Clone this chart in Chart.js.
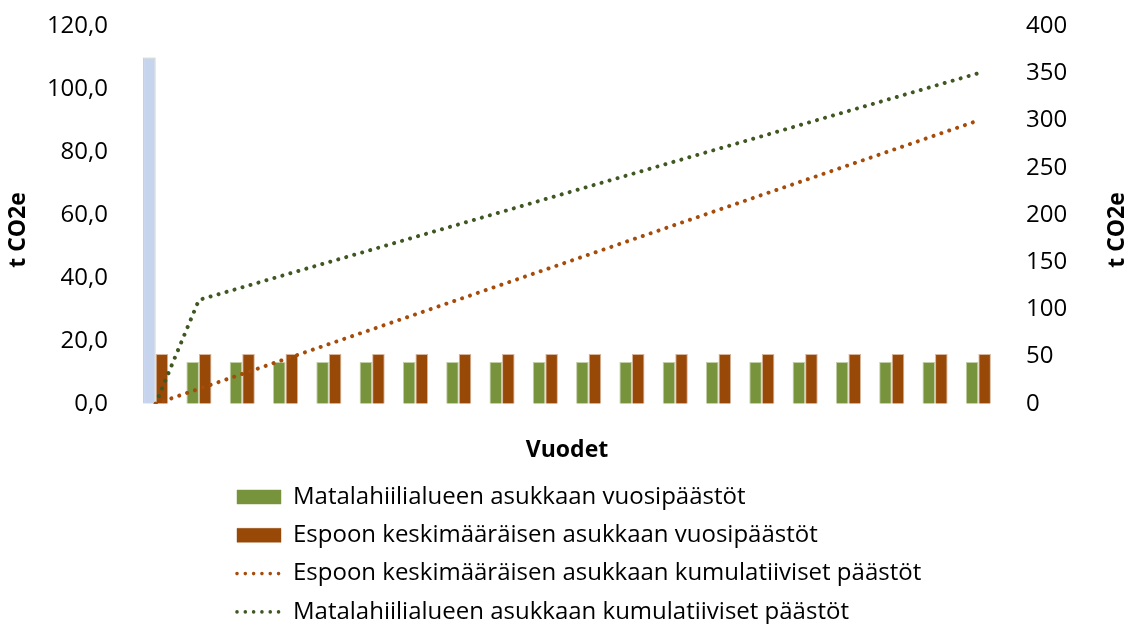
<!DOCTYPE html>
<html><head><meta charset="utf-8">
<script src="https://cdn.jsdelivr.net/npm/chart.js@4.4.0/dist/chart.umd.min.js"></script>
<style>html,body{margin:0;padding:0;background:#fff}#wrap{width:1131px;height:624px;position:relative}</style>
</head><body><div id="wrap"><canvas id="c" width="1131" height="624"></canvas></div>
<script>
const years = ['1','2','3','4','5','6','7','8','9','10','11','12','13','14','15','16','17','18','19','20'];
const lowCarbonAnnual = [110, 13.3, 13.3, 13.3, 13.3, 13.3, 13.3, 13.3, 13.3, 13.3, 13.3, 13.3, 13.3, 13.3, 13.3, 13.3, 13.3, 13.3, 13.3, 13.3];
const espooAnnual = [15.8, 15.8, 15.8, 15.8, 15.8, 15.8, 15.8, 15.8, 15.8, 15.8, 15.8, 15.8, 15.8, 15.8, 15.8, 15.8, 15.8, 15.8, 15.8, 15.8];
const espooCumulative = [0, 15.8, 31.6, 47.4, 63.2, 78.9, 94.7, 110.5, 126.3, 142.1, 157.9, 173.7, 189.5, 205.3, 221.1, 236.8, 252.6, 268.4, 284.2, 300.0];
const lowCarbonCumulative = [0, 110, 123.3, 136.7, 150, 163.3, 176.7, 190, 203.3, 216.7, 230, 243.3, 256.7, 270, 283.3, 296.7, 310, 323.3, 336.7, 350];
const leftAxis = {min: 0, max: 120, step: 20};
const rightAxis = {min: 0, max: 400, step: 50};
const seriesNames = [
  'Matalahiilialueen asukkaan vuosipäästöt',
  'Espoon keskimääräisen asukkaan vuosipäästöt',
  'Espoon keskimääräisen asukkaan kumulatiiviset päästöt',
  'Matalahiilialueen asukkaan kumulatiiviset päästöt'
];
const axisTitle = 't CO2e';
const xTitle = 'Vuodet';

const FONT = "'Open Sans', sans-serif";
const GREEN = '#77933c', BROWN = '#984807', BLUE = '#c6d4ee';
const GREEN_LINE = '#3f5722', BROWN_LINE = '#a64c0b';

const greenColors = lowCarbonAnnual.map((v, i) => i === 0 ? BLUE : GREEN);

const customPlugin = {
  id: 'custom',
  afterLayout(chart) {
    const lg = chart.legend;
    const pad = lg.options.labels.padding;
    lg.left = 237 - pad;
    lg.right = 1131;
    lg.top = 497 - pad - 12;
  },
  afterDraw(chart) {
    const ctx = chart.ctx;
    ctx.save();
    ctx.font = "bold 23px " + FONT;
    ctx.fillStyle = '#000';
    ctx.textAlign = 'center';
    ctx.textBaseline = 'middle';
    [[18, 230], [1117, 230]].forEach(([x, y]) => {
      ctx.save();
      ctx.translate(x, y);
      ctx.rotate(-Math.PI / 2);
      ctx.fillText(axisTitle, 0, 0);
      ctx.restore();
    });
    ctx.restore();
  }
};

function fixY(width) {
  return function(s) { s.width = width; s.paddingTop = 0; s.paddingBottom = 0; };
}

new Chart(document.getElementById('c'), {
  data: {
    labels: years,
    datasets: [
      {type: 'bar', label: seriesNames[0], data: lowCarbonAnnual, yAxisID: 'yL',
       backgroundColor: greenColors, borderColor: 'rgba(119,147,60,0.45)', borderWidth: 1, legendColor: GREEN, order: 1},
      {type: 'bar', label: seriesNames[1], data: espooAnnual, yAxisID: 'yL',
       backgroundColor: BROWN, borderColor: 'rgba(152,72,7,0.4)', borderWidth: 1, order: 1},
      {type: 'line', label: seriesNames[2], data: espooCumulative, yAxisID: 'yR',
       borderColor: BROWN_LINE, backgroundColor: BROWN_LINE, borderWidth: 4, borderDash: [0.01, 8.3],
       borderCapStyle: 'round', pointRadius: 0, tension: 0, order: 0},
      {type: 'line', label: seriesNames[3], data: lowCarbonCumulative, yAxisID: 'yR',
       borderColor: GREEN_LINE, backgroundColor: GREEN_LINE, borderWidth: 4, borderDash: [0.01, 8.3],
       borderCapStyle: 'round', pointRadius: 0, tension: 0, order: 0}
    ]
  },
  options: {
    responsive: false,
    animation: false,
    layout: {padding: {top: 26, left: 0, right: 0, bottom: 0}},
    datasets: {bar: {categoryPercentage: 0.58, barPercentage: 1}},
    plugins: {
      tooltip: {enabled: false},
      legend: {
        position: 'bottom',
        align: 'start',
        labels: {
          font: {family: FONT, size: 24},
          color: '#000',
          padding: 14.3,
          usePointStyle: true,
          pointStyleWidth: 44,
          boxHeight: 14,
          generateLabels(chart) {
            const items = Chart.defaults.plugins.legend.labels.generateLabels(chart);
            items.forEach(it => {
              const ds = chart.data.datasets[it.datasetIndex];
              if (ds.type === 'line') {
                it.pointStyle = 'line';
                it.strokeStyle = ds.borderColor;
                it.lineDash = ds.borderDash;
                it.lineCap = 'round';
                it.lineWidth = 3.6;
              } else {
                it.pointStyle = 'rect';
                it.fillStyle = ds.legendColor || ds.backgroundColor;
                it.strokeStyle = ds.borderColor;
                it.lineDash = [];
                it.lineWidth = 1;
              }
            });
            items.sort((a, b) => a.datasetIndex - b.datasetIndex);
            return items;
          }
        }
      }
    },
    scales: {
      x: {
        grid: {display: false, drawTicks: false},
        border: {display: false},
        ticks: {display: false},
        title: {display: true, text: xTitle, color: '#000', font: {family: FONT, size: 23, weight: 'bold'}, padding: {top: 0, bottom: -3}},
        afterFit(s) { s.height = 57; }
      },
      yL: {
        position: 'left', min: leftAxis.min, max: leftAxis.max,
        grid: {display: false, drawTicks: false},
        border: {display: false},
        ticks: {stepSize: leftAxis.step, padding: 26, color: '#000', font: {family: FONT, size: 24},
          callback: v => v.toFixed(1).replace('.', ',')},
        afterFit: fixY(134)
      },
      yR: {
        position: 'right', min: rightAxis.min, max: rightAxis.max,
        grid: {display: false, drawTicks: false},
        border: {display: false},
        ticks: {stepSize: rightAxis.step, padding: 26, color: '#000', font: {family: FONT, size: 24}},
        afterFit: fixY(131)
      }
    }
  },
  plugins: [customPlugin]
});
</script>
</body></html>
